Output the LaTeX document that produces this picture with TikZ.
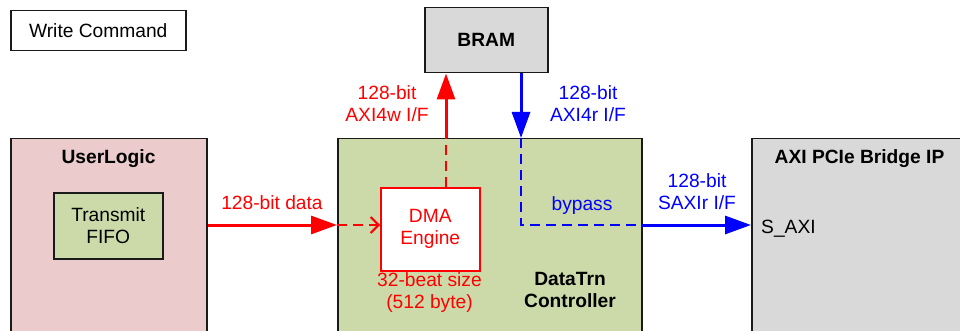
\documentclass[tikz,border=0pt]{standalone}
\usepackage{fontspec}
\setmainfont{Liberation Sans}
\usetikzlibrary{arrows.meta}
\definecolor{pinkfill}{HTML}{EBCBCB}
\definecolor{greenfill}{HTML}{CCDAA9}
\definecolor{grayfill}{HTML}{D9D9D9}
\definecolor{edge}{HTML}{1A1A1A}
\tikzset{
  blk/.style={draw=edge, line width=1.5pt, anchor=north west, inner sep=0pt},
  lbl/.style={inner sep=0pt, align=center},
  bold/.style={inner sep=0pt, align=center, font=\fontsize{19.2}{22}\selectfont\bfseries},
  solidarrow/.style={line width=3pt, -{Triangle[length=26pt,width=18pt]}},
  dashline/.style={line width=2pt, dash pattern=on 10pt off 6pt},
}
\begin{document}
\begin{tikzpicture}[x=1pt,y=-1pt, font=\fontsize{19.2}{22}\selectfont]
\clip (0,0) rectangle (960,331);
\fill[white] (0,0) rectangle (960,331);
% boxes
\node[blk, fill=white, minimum width=175pt, minimum height=40pt] (wc) at (10,10) {};
\node[lbl] (wct) at (wc.center) {Write Command};
\node[blk, fill=grayfill, minimum width=123pt, minimum height=65pt] (bram) at (424,7) {};
\node[bold] (bramt) at (bram.center) {BRAM};
\node[blk, fill=pinkfill, minimum width=196pt, minimum height=210pt] (ul) at (10,138) {};
\node[bold] (ult) at (108.5,159) {UserLogic};
\node[blk, fill=greenfill, minimum width=109pt, minimum height=66pt] (fifo) at (53,192) {};
\node[lbl] (fifot) at (fifo.center) {Transmit\\FIFO};
\node[blk, fill=greenfill, minimum width=304pt, minimum height=210pt] (dt) at (337,138) {};
\node[bold] (dtt) at (570,289.5) {DataTrn\\Controller};
\node[blk, draw=red, fill=white, minimum width=99pt, minimum height=83pt] (dma) at (380,187) {};
\node[lbl, text=red] (dmat) at (dma.center) {DMA\\Engine};
\node[lbl, text=red] (beat) at (429.5,292.5) {32-beat size\\(512 byte)};
\node[blk, fill=grayfill, minimum width=220pt, minimum height=210pt] (pcie) at (751,138) {};
\node[bold] (pciet) at (859.5,159) {AXI PCIe Bridge IP};
\node[lbl, anchor=west] (saxi) at (761,229) {S\_AXI};
% labels
\node[lbl, text=red] (wrl) at (387,104) {128-bit\\AXI4w I/F};
\node[lbl, text=blue] (rdl) at (588,104) {128-bit\\AXI4r I/F};
\node[lbl, text=red] (datal) at (272,203) {128-bit data};
\node[lbl, text=blue] (bypl) at (582,206) {bypass};
\node[lbl, text=blue] (saxil) at (697,192) {128-bit\\SAXIr I/F};
% connector points
\coordinate (dmain) at (380,225);
\coordinate (wrtop) at (446,138);
\coordinate (rdtop) at (521,138);
\coordinate (rdcorner) at (521,225);
\coordinate (rdexit) at (641,225);
% red write path
\draw[red, solidarrow] (ul.east |- dmain) -- (dt.west |- dmain);
\draw[red, dashline, -{Straight Barb[length=8pt,width=16pt]}] (dt.west |- dmain) -- (dmain);
\draw[red, dashline] (dma.north -| wrtop) -- (wrtop);
\draw[red, solidarrow] (wrtop) -- (bram.south -| wrtop);
% blue read path
\draw[blue, solidarrow] (bram.south -| rdtop) -- (rdtop);
\draw[blue, dashline] (rdtop) -- (rdcorner) -- (rdexit);
\draw[blue, solidarrow] (rdexit) -- (pcie.west |- rdexit);
\end{tikzpicture}
\end{document}
